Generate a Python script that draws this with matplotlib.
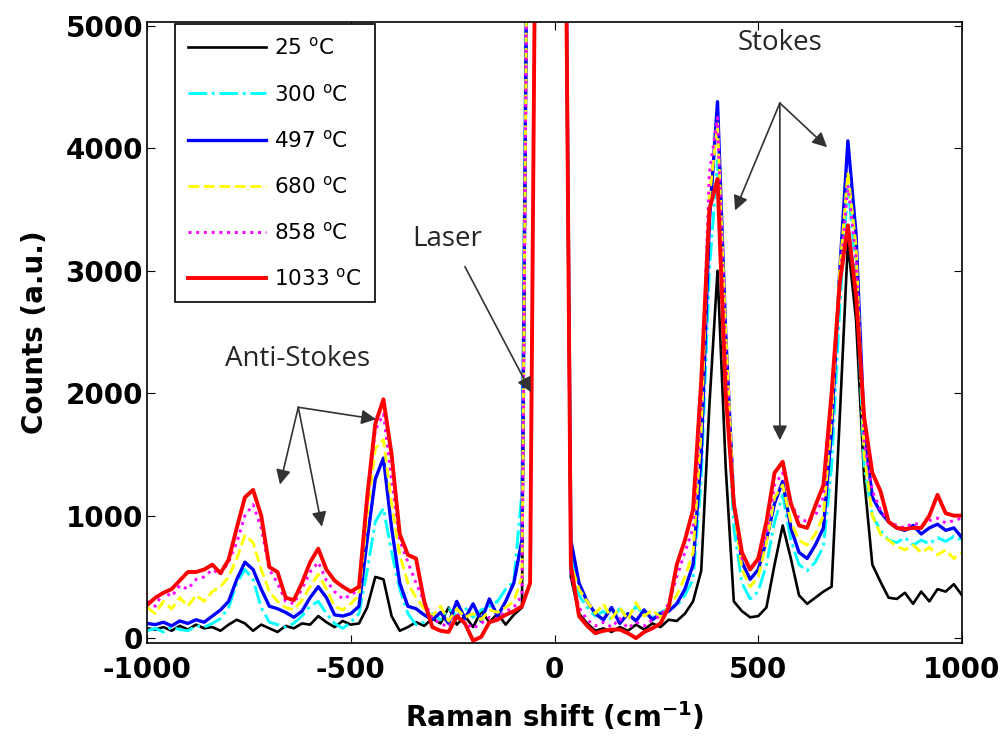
from matplotlib import pyplot as plt
import numpy as np

# Raman shift grid (cm^-1), step 20
shift = np.arange(-1000, 1001, 20)

# counts, one list per temperature (values above 5000 are off scale)
c25 = [80, 70, 90, 60, 100, 70, 110, 80, 90, 60,
       110, 150, 120, 60, 110, 80, 50, 100, 80, 120,
       110, 180, 130, 90, 140, 110, 120, 250, 500, 480,
       180, 60, 90, 130, 100, 160, 120, 250, 110, 180,
       90, 220, 130, 200, 110, 190, 250, 9000, 9000, 9000,
       9000, 9000, 500, 200, 120, 60, 80, 50, 90, 60,
       110, 70, 120, 90, 150, 140, 200, 300, 550, 1900,
       3000, 1400, 300, 220, 170, 180, 250, 600, 920, 650,
       350, 280, 330, 380, 420, 1800, 3230, 2600, 1300, 600,
       460, 330, 320, 370, 280, 380, 300, 400, 380, 440,
       350]
c300 = [60, 80, 50, 90, 70, 60, 100, 90, 120, 160,
        250, 450, 560, 480, 250, 130, 110, 90, 120, 180,
        260, 300, 200, 120, 80, 130, 200, 550, 950, 1060,
        700, 400, 200, 110, 130, 200, 150, 240, 180, 250,
        170, 230, 260, 300, 400, 460, 1200, 9000, 9000, 9000,
        9000, 9000, 700, 350, 250, 180, 220, 150, 240, 170,
        260, 190, 170, 210, 240, 260, 350, 480, 1300, 3000,
        3900, 2200, 900, 450, 320, 380, 600, 950, 1170, 800,
        600, 550, 620, 750, 1400, 2700, 3700, 3000, 1400, 1000,
        880, 800, 780, 820, 760, 800, 770, 820, 790, 830,
        800]
c497 = [120, 110, 130, 100, 140, 120, 150, 130, 180, 230,
        300, 480, 620, 560, 400, 260, 240, 210, 170, 220,
        330, 420, 330, 190, 180, 200, 260, 800, 1300, 1470,
        900, 450, 260, 240, 190, 150, 210, 120, 300, 160,
        280, 140, 320, 180, 300, 450, 800, 9000, 9000, 9000,
        9000, 9000, 800, 450, 300, 200, 150, 250, 120, 200,
        140, 230, 150, 200, 220, 280, 400, 600, 1500, 3400,
        4380, 2500, 1100, 620, 480, 560, 800, 1100, 1280, 900,
        700, 650, 760, 900, 1700, 3000, 4060, 3300, 1700, 1150,
        1030, 950, 900, 880, 920, 850, 900, 930, 880, 900,
        820]
c680 = [250, 200, 300, 240, 330, 260, 350, 300, 380, 420,
        500, 650, 840, 780, 560, 380, 300, 250, 230, 310,
        420, 520, 400, 260, 230, 280, 350, 1000, 1550, 1620,
        1100, 680, 450, 330, 240, 180, 260, 140, 240, 170,
        200, 150, 230, 210, 250, 300, 500, 9000, 9000, 9000,
        9000, 9000, 600, 400, 300, 200, 280, 160, 250, 150,
        290, 180, 230, 170, 250, 350, 500, 700, 1700, 3600,
        4200, 2500, 1100, 560, 420, 500, 780, 1150, 1250, 950,
        800, 760, 850, 1000, 1800, 3000, 3800, 3200, 1500, 1000,
        850, 800, 750, 720, 760, 700, 740, 680, 720, 650,
        700]
c858 = [300, 260, 380, 340, 430, 400, 480, 500, 560, 520,
        620, 780, 1000, 1090, 900, 560, 450, 300, 280, 400,
        540, 620, 470, 380, 320, 350, 400, 1100, 1700, 1830,
        1300, 800, 620, 450, 300, 160, 120, 90, 200, 130,
        80, 120, 170, 160, 220, 250, 350, 9000, 9000, 9000,
        9000, 9000, 500, 250, 150, 100, 130, 90, 160, 80,
        130, 100, 150, 180, 280, 500, 700, 900, 1900, 3800,
        4250, 2300, 1100, 650, 580, 620, 850, 1250, 1350, 1100,
        980, 950, 1000, 1150, 1900, 2900, 3700, 3100, 1600, 1200,
        1050, 950, 920, 900, 940, 920, 960, 980, 940, 960,
        980]
c1033 = [270, 330, 370, 400, 470, 540, 540, 560, 600, 530,
         640, 900, 1150, 1210, 1000, 580, 540, 330, 310, 450,
         620, 730, 560, 470, 420, 380, 420, 1150, 1750, 1950,
         1500, 850, 680, 650, 300, 90, 60, 50, 180, 120,
         -20, 10, 130, 150, 190, 220, 260, 450, 9000, 9000,
         9000, 9000, 600, 180, 100, 40, 60, 70, 70, 40,
         0, 50, 80, 120, 250, 600, 800, 1050, 2100, 3500,
         3750, 2000, 1100, 700, 560, 650, 950, 1350, 1440, 1100,
         920, 900, 1080, 1250, 2000, 2900, 3370, 2800, 1800, 1350,
         1200, 950, 900, 890, 900, 900, 1000, 1170, 1020, 1000,
         1000]

labels = ['25 $^{\\mathregular{o}}$C', '300 $^{\\mathregular{o}}$C', '497 $^{\\mathregular{o}}$C',
          '680 $^{\\mathregular{o}}$C', '858 $^{\\mathregular{o}}$C', '1033 $^{\\mathregular{o}}$C']

plt.rcParams['font.family'] = ['DejaVu Sans']
plt.rcParams['axes.unicode_minus'] = False

fig = plt.figure(figsize=(10.01, 7.49), dpi=100)
ax = fig.add_axes([0.147, 0.1415, 0.814, 0.829])

ax.plot(shift, c25, 'k', lw=1.9, label=labels[0])
ax.plot(shift, c300, color='#00ffff', lw=2.1, ls='-.', label=labels[1])
ax.plot(shift, c497, color='#0000ff', lw=2.4, label=labels[2])
ax.plot(shift, c680, color='#ffff00', lw=2.1, ls='--', label=labels[3])
ax.plot(shift, c858, color='#ff00ff', lw=2.1, ls=':', label=labels[4])
ax.plot(shift, c1033, color='#ff0000', lw=2.8, label=labels[5])

ax.set_xlim(-1000, 1000)
ax.set_ylim(-40, 5030)
ax.set_xticks([-1000, -500, 0, 500, 1000])
ax.set_yticks([0, 1000, 2000, 3000, 4000, 5000])
ax.tick_params(direction='in', top=True, right=True, length=6, labelsize=20)
ax.tick_params(axis='x', pad=9)
ax.tick_params(axis='y', pad=3)
for t in ax.get_xticklabels() + ax.get_yticklabels():
    t.set_fontweight('bold')
for s in ax.spines.values():
    s.set_linewidth(1.2)

ax.set_xlabel('Raman shift (cm$^{\\mathregular{-1}}$)', fontsize=20, fontweight='bold', labelpad=12)
ax.set_ylabel('Counts (a.u.)', fontsize=20, fontweight='bold', labelpad=12)

leg = ax.legend(loc='upper left', bbox_to_anchor=(0.175, 0.968), bbox_transform=fig.transFigure,
                borderaxespad=0, fontsize=15.5, handlelength=3.6, handletextpad=0.4,
                labelspacing=1.12, borderpad=0.6,
                fancybox=False, framealpha=1, edgecolor='k')
leg.get_frame().set_linewidth(1.2)

# annotations with arrows
note = dict(fontsize=20, color='#262626', family=['Open Sans', 'DejaVu Sans'], ha='center', va='center')
arr = dict(arrowstyle='-|>', color='#333333', lw=1.2, mutation_scale=22, shrinkA=0, shrinkB=0)

ax.text(-632, 2280, 'Anti-Stokes', **note)
ax.annotate('', xy=(-674, 1254), xytext=(-629, 1885), arrowprops=arr)
ax.annotate('', xy=(-571, 910), xytext=(-629, 1885), arrowprops=arr)
ax.annotate('', xy=(-438, 1787), xytext=(-629, 1885), arrowprops=arr)

ax.text(-264, 3262, 'Laser', **note)
ax.annotate('', xy=(-58, 2008), xytext=(-220, 3033), arrowprops=arr)

ax.text(553, 4861, 'Stokes', **note)
ax.annotate('', xy=(443, 3492), xytext=(553, 4369), arrowprops=arr)
ax.annotate('', xy=(553, 1615), xytext=(553, 4369), arrowprops=arr)
ax.annotate('', xy=(669, 4008), xytext=(553, 4369), arrowprops=arr)

fig.savefig('out.png', dpi=100)
